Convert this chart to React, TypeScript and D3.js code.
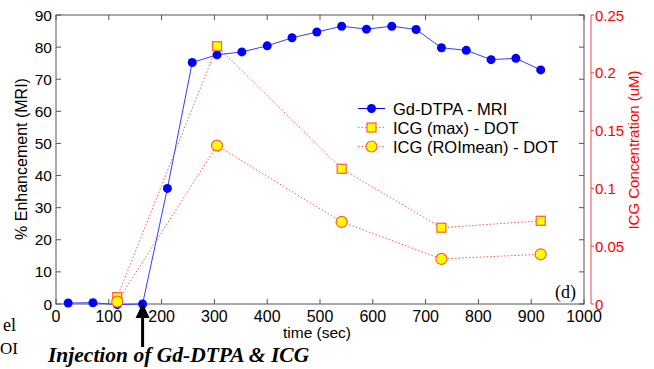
import { useEffect, useRef } from "react"
import * as d3 from 'd3';

// MRI Gd-DTPA enhancement (left axis)
const mriTime = [23, 70, 116, 164, 211, 258, 305, 352, 400, 447, 494, 541, 588, 636, 682, 730, 777, 824, 871, 918];
const mriEnh = [0.3, 0.4, -0.2, 0, 36, 75.2, 77.6, 78.5, 80.4, 82.9, 84.7, 86.5, 85.6, 86.5, 85.5, 79.8, 79.0, 76.1, 76.5, 72.9];
// ICG DOT (right axis)
const icgTime = [116, 305, 541, 730, 918];
const icgMax = [0.006, 0.223, 0.117, 0.066, 0.072];
const icgMean = [0.002, 0.137, 0.071, 0.039, 0.043];

const xTicks = [0, 100, 200, 300, 400, 500, 600, 700, 800, 900, 1000];
const yLeftTicks = [0, 10, 20, 30, 40, 50, 60, 70, 80, 90];
const yRightTicks = [0, 0.05, 0.1, 0.15, 0.2, 0.25];
const legendLabels = ['Gd-DTPA - MRI', 'ICG (max) - DOT', 'ICG (ROImean) - DOT'];

const W = 654, H = 369;
const sans = 'Arial, "Liberation Sans", Helvetica, sans-serif';
const serif = '"Times New Roman", "Liberation Serif", serif';

const App = () => {
  const svgRef = useRef<SVGSVGElement>(null);

  useEffect(() => {
    const svg = d3.select(svgRef.current);
    svg.selectAll("*").remove();

    const x = d3.scaleLinear().domain([0, 1000]).range([56, 584]);
    const yL = d3.scaleLinear().domain([0, 90]).range([304, 15]);
    const yR = d3.scaleLinear().domain([0, 0.25]).range([304, 15]);
    const axisCol = '#555';

    // plot frame
    svg.append('rect').attr('x', 56).attr('y', 15).attr('width', 528).attr('height', 289)
      .attr('fill', 'white').attr('stroke', axisCol).attr('stroke-width', 1);

    // ticks inward on all four sides
    xTicks.forEach(t => {
      svg.append('line').attr('x1', x(t)).attr('x2', x(t)).attr('y1', 304).attr('y2', 299).attr('stroke', axisCol);
      svg.append('line').attr('x1', x(t)).attr('x2', x(t)).attr('y1', 15).attr('y2', 20).attr('stroke', axisCol);
      svg.append('text').attr('x', x(t)).attr('y', 322).attr('text-anchor', 'middle')
        .attr('font-family', sans).attr('font-size', 16).attr('fill', '#000').text(t);
    });
    yLeftTicks.forEach(t => {
      svg.append('line').attr('x1', 56).attr('x2', 61).attr('y1', yL(t)).attr('y2', yL(t)).attr('stroke', axisCol);
      svg.append('line').attr('x1', 584).attr('x2', 579).attr('y1', yL(t)).attr('y2', yL(t)).attr('stroke', axisCol);
      svg.append('text').attr('x', 52).attr('y', yL(t) + 5.5).attr('text-anchor', 'end')
        .attr('font-family', sans).attr('font-size', 15.5).attr('fill', '#000').text(t);
    });

    // right red axis
    svg.append('line').attr('x1', 591).attr('x2', 591).attr('y1', 15).attr('y2', 304).attr('stroke', '#ff4040');
    yRightTicks.forEach(t => {
      svg.append('line').attr('x1', 591).attr('x2', 594).attr('y1', yR(t)).attr('y2', yR(t)).attr('stroke', '#ff4040');
      svg.append('text').attr('x', 595).attr('y', yR(t) + 5.5)
        .attr('font-family', sans).attr('font-size', 15).attr('fill', '#ff0000').text(t);
    });

    // axis titles
    svg.append('text').attr('x', 317).attr('y', 338).attr('text-anchor', 'middle')
      .attr('font-family', sans).attr('font-size', 15.5).text('time (sec)');
    svg.append('text').attr('transform', 'translate(27,159) rotate(-90)').attr('text-anchor', 'middle')
      .attr('font-family', sans).attr('font-size', 16).text('% Enhancement (MRI)');
    svg.append('text').attr('transform', 'translate(639,150) rotate(-90)').attr('text-anchor', 'middle')
      .attr('font-family', sans).attr('font-size', 15).attr('fill', '#ff0000').text('ICG Concentration (uM)');

    // red dotted ICG lines
    const lineR = (vals: number[]) => d3.line<number>().x((d, i) => x(icgTime[i])).y(d => yR(d))(vals);
    [icgMax, icgMean].forEach(vals => {
      svg.append('path').attr('d', lineR(vals)).attr('fill', 'none')
        .attr('stroke', '#ff5555').attr('stroke-width', 1).attr('stroke-dasharray', '1.5,2');
    });

    // blue MRI line
    const lineL = d3.line<number>().x((d, i) => x(mriTime[i])).y(d => yL(d));
    svg.append('path').attr('d', lineL(mriEnh)).attr('fill', 'none')
      .attr('stroke', '#3a3aff').attr('stroke-width', 1);
    svg.selectAll('.mri').data(mriEnh).enter().append('circle')
      .attr('cx', (d, i) => x(mriTime[i])).attr('cy', d => yL(d)).attr('r', 4.5).attr('fill', '#0000ff');

    // ICG markers
    svg.selectAll('.imax').data(icgMax).enter().append('rect')
      .attr('x', (d, i) => x(icgTime[i]) - 4.5).attr('y', d => yR(d) - 4.5)
      .attr('width', 9).attr('height', 9).attr('fill', '#ffff00').attr('stroke', '#ff5a3c').attr('stroke-width', 1.2);
    svg.selectAll('.imean').data(icgMean).enter().append('circle')
      .attr('cx', (d, i) => x(icgTime[i])).attr('cy', d => yR(d)).attr('r', 5.5)
      .attr('fill', '#ffff00').attr('stroke', '#ff5a3c').attr('stroke-width', 1.2);

    // legend
    const lg = svg.append('g');
    lg.append('rect').attr('x', 352).attr('y', 95).attr('width', 214).attr('height', 62).attr('fill', 'white');
    legendLabels.forEach((lab, i) => {
      const yy = 108.5 + i * 19;
      const line = lg.append('line').attr('x1', 358).attr('x2', 385).attr('y1', yy).attr('y2', yy).attr('stroke-width', 1);
      if (i === 0) {
        line.attr('stroke', '#0000ff');
        lg.append('circle').attr('cx', 371.5).attr('cy', yy).attr('r', 4.5).attr('fill', '#0000ff');
      } else {
        line.attr('stroke', '#ff7070').attr('stroke-dasharray', '1.5,2');
        if (i === 1) lg.append('rect').attr('x', 367).attr('y', yy - 4.5).attr('width', 9).attr('height', 9)
          .attr('fill', '#ffff00').attr('stroke', '#ff5a3c').attr('stroke-width', 1.2);
        else lg.append('circle').attr('cx', 371.5).attr('cy', yy).attr('r', 5.5)
          .attr('fill', '#ffff00').attr('stroke', '#ff5a3c').attr('stroke-width', 1.2);
      }
      lg.append('text').attr('x', 393).attr('y', yy + 6).attr('font-family', sans).attr('font-size', 16.5).text(lab);
    });

    // panel letter
    svg.append('text').attr('x', 555).attr('y', 298).attr('font-family', serif).attr('font-size', 18).text('(d)');

    // text fragments from the neighbouring panel
    svg.append('text').attr('x', 3).attr('y', 331)
      .attr('font-family', serif).attr('font-size', 18).text('el');
    svg.append('text').attr('x', 0).attr('y', 354)
      .attr('font-family', serif).attr('font-size', 17).text('OI');

    // injection arrow
    const ax = x(164);
    svg.append('rect').attr('x', ax - 1.5).attr('y', 314).attr('width', 3).attr('height', 33).attr('fill', '#000');
    svg.append('path').attr('d', `M${ax},303 L${ax - 7},318 L${ax + 7},318 Z`).attr('fill', '#000');
    svg.append('text').attr('x', 48).attr('y', 362).attr('font-family', serif).attr('font-size', 21.5)
      .attr('font-style', 'italic').attr('font-weight', 'bold').text('Injection of Gd-DTPA & ICG');
  }, []);

  return (
    <svg ref={svgRef} width={W} height={H} style={{ position: 'absolute', left: 0, top: 0, background: 'white' }} />
  )
}

export default App
